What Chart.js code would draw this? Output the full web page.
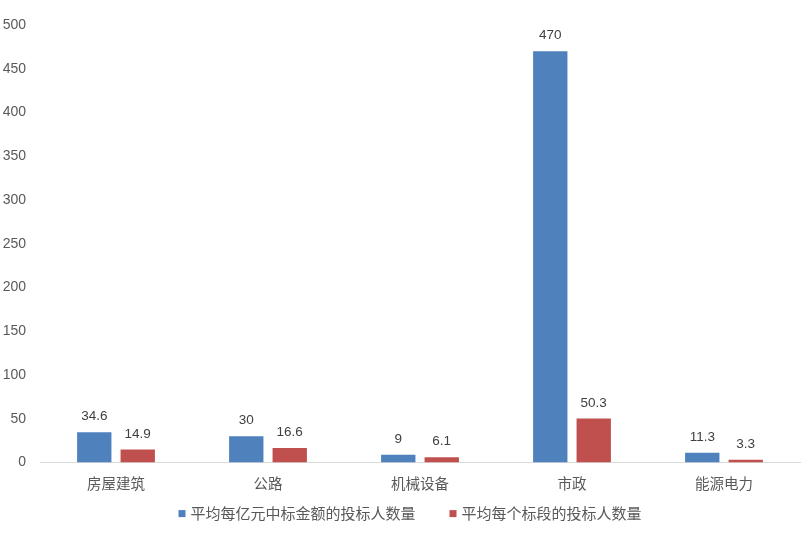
<!DOCTYPE html>
<html><head><meta charset="utf-8">
<script src="https://cdn.jsdelivr.net/npm/chart.js@4/dist/chart.umd.min.js"></script>
<style>html,body{margin:0;padding:0;background:#fff}#wrap{width:808px;height:539px}</style>
</head><body><div id="wrap"><canvas id="c"></canvas></div>
<script>
const categories = ['房屋建筑','公路','机械设备','市政','能源电力'];
const seriesNames = ['平均每亿元中标金额的投标人数量','平均每个标段的投标人数量'];
const perBillion = [34.6, 30, 9, 470, 11.3];
const perSection = [14.9, 16.6, 6.1, 50.3, 3.3];
const yTicks = [0,50,100,150,200,250,300,350,400,450,500];
const seriesColors = ['#4f81bd','#c0504d'];

const labelPlugin = {
  id:'vals',
  afterDatasetsDraw(chart){
    const ctx = chart.ctx;
    ctx.save();
    ctx.font = '13.5px "Liberation Sans", "Open Sans", sans-serif';
    ctx.fillStyle = '#404040';
    ctx.textAlign = 'center';
    ctx.textBaseline = 'bottom';
    chart.data.datasets.forEach((ds,i)=>{
      chart.getDatasetMeta(i).data.forEach((bar,j)=>{
        ctx.fillText(String(ds.data[j]), bar.x, bar.y - 9);
      });
    });
    ctx.restore();
  }
};

const legendPlugin = {
  id:'customLegend',
  afterDraw(chart){
    const ctx = chart.ctx;
    ctx.save();
    ctx.font = '15px "Noto Sans CJK SC", sans-serif';
    ctx.textBaseline = 'middle';
    ctx.textAlign = 'left';
    const box = 7, gapText = 5, gapItem = 34;
    const ds = chart.data.datasets;
    const widths = ds.map(d => box + gapText + ctx.measureText(d.label).width);
    const total = widths.reduce((a,b)=>a+b,0) + gapItem*(ds.length-1);
    let x = chart.width/2 + 6 - total/2;
    const y = chart.chartArea.bottom + 51;
    ds.forEach((d,i)=>{
      ctx.fillStyle = d.backgroundColor;
      ctx.fillRect(x, y - box/2, box, box);
      ctx.fillStyle = '#595959';
      ctx.fillText(d.label, x + box + gapText, y);
      x += widths[i] + gapItem;
    });
    ctx.restore();
  }
};

new Chart(document.getElementById('c'), {
  type:'bar',
  data:{
    labels: categories,
    datasets:[
      {label:seriesNames[0], data:perBillion, backgroundColor:seriesColors[0], categoryPercentage:0.572, barPercentage:0.79},
      {label:seriesNames[1], data:perSection, backgroundColor:seriesColors[1], categoryPercentage:0.572, barPercentage:0.79}
    ]
  },
  options:{
    responsive:true, maintainAspectRatio:false, animation:false,
    layout:{padding:{top:25,right:8,left:0,bottom:35}},
    plugins:{
      legend:{display:false},
      tooltip:{enabled:false}
    },
    scales:{
      x:{grid:{display:false, drawTicks:false}, border:{color:'#d9d9d9'},
        ticks:{color:'#595959', padding:12, font:{size:14.5, family:'"Noto Sans CJK SC", sans-serif'}}},
      y:{min:0, max:500, afterBuildTicks(ax){ax.ticks = yTicks.map(v=>({value:v}));},
        afterFit(ax){ax.width = 40;},
        grid:{display:false, drawTicks:false}, border:{display:false},
        ticks:{color:'#595959', padding:14, font:{size:14, family:'"Liberation Sans", sans-serif'}}}
    }
  },
  plugins:[labelPlugin, legendPlugin]
});
</script></body></html>
